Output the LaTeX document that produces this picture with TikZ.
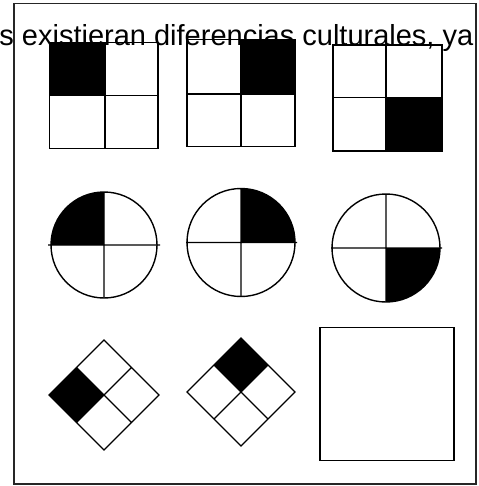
\documentclass[tikz,border=0pt]{standalone}
\usepackage{fontspec}
\setmainfont{Liberation Sans}
\begin{document}
\begin{tikzpicture}[x=1pt,y=-1pt,
  sqline/.style={line width=1.8pt,line join=miter},
  cirline/.style={line width=1.4pt},
  dialine/.style={line width=1.2pt,line join=miter},
  blk/.style={fill=black}]
\useasboundingbox (0,0) rectangle (478,486);
\clip (0,0) rectangle (478,486);
% outer frame
\draw[line width=1.8pt,draw=black!85] (14,3.5) rectangle (476,484);
% row 1: squares
\fill[blk] (49.5,42.5) rectangle (105,95.5);
\draw[sqline] (49.5,42.5) rectangle (158,148.5) (105,42.5) -- (105,148.5) (49.5,95.5) -- (158,95.5);
\fill[blk] (241,39.5) rectangle (295,94);
\draw[sqline] (187,39.5) rectangle (295,146.5) (241,39.5) -- (241,146.5) (187,94) -- (295,94);
\fill[blk] (386,97.5) rectangle (442,151);
\draw[sqline] (333,45) rectangle (442,151) (386,45) -- (386,151) (333,97.5) -- (442,97.5);
% row 2: circles (y axis points down, so angles run clockwise on screen)
\fill[blk] (104,245) -- (51,245) arc[start angle=180,end angle=270,radius=53] -- cycle;
\draw[cirline] (104,245) circle[radius=53] (48,245) -- (160,245) (104,192) -- (104,298);
\fill[blk] (241,242.5) -- (241,188.5) arc[start angle=-90,end angle=0,radius=54] -- cycle;
\draw[cirline] (241,242.5) circle[radius=54] (186,242.5) -- (297,242.5) (241,188.5) -- (241,296.5);
\fill[blk] (386,248) -- (440,248) arc[start angle=0,end angle=90,radius=54] -- cycle;
\draw[cirline] (386,248) circle[radius=54] (331,248) -- (442,248) (386,194) -- (386,302);
% row 3: diamonds
\fill[blk] (49,395) -- (76.5,367.5) -- (104,395) -- (76.5,422.5) -- cycle;
\draw[dialine] (49,395) -- (104,340) -- (159,395) -- (104,450) -- cycle
  (76.5,367.5) -- (131.5,422.5) (131.5,367.5) -- (76.5,422.5);
\fill[blk] (241,338) -- (268,365) -- (241,392) -- (214,365) -- cycle;
\draw[dialine] (187,392) -- (241,338) -- (295,392) -- (241,446) -- cycle
  (214,365) -- (268,419) (268,365) -- (214,419);
% empty answer square
\draw[line width=1.8pt] (320,327.5) rectangle (454,460.5);
% clipped caption text
\node[anchor=base east,inner sep=0pt,font=\fontsize{29}{32}\selectfont] (cap) at (473.5,46) {s existieran diferencias culturales, ya};
\end{tikzpicture}
\end{document}
